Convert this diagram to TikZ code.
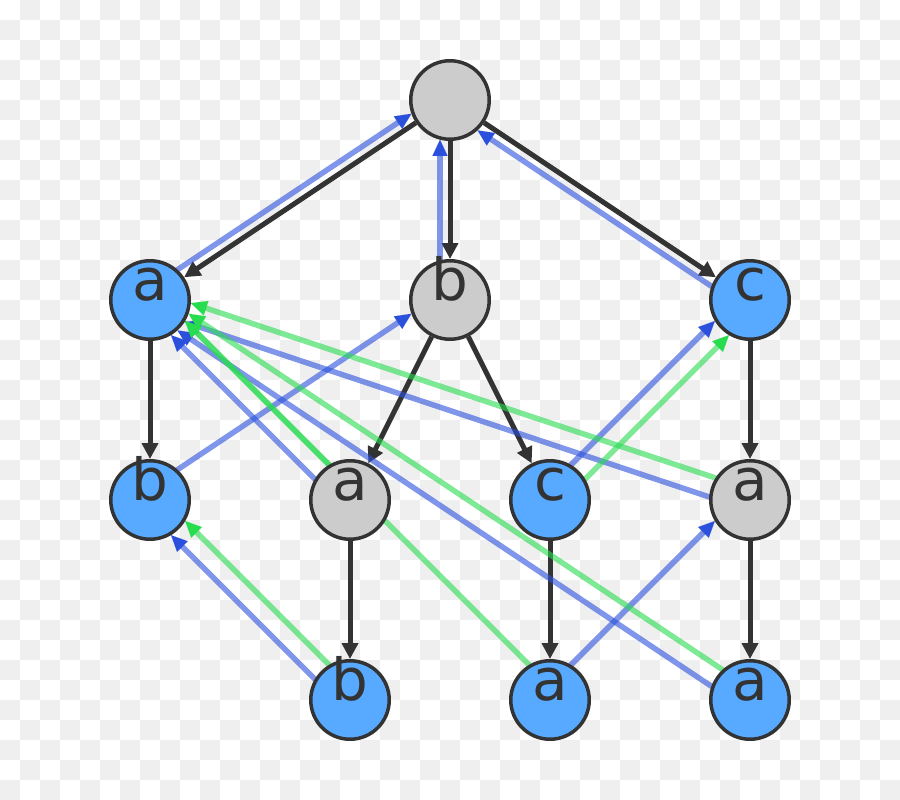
\documentclass[tikz,border=0pt]{standalone}
\usepackage{fontspec}
\setmainfont{DejaVu Sans}
\usetikzlibrary{arrows.meta,calc}
\definecolor{edgec}{HTML}{333333}
\definecolor{nodeblue}{HTML}{57AAFF}
\definecolor{nodegray}{HTML}{CCCCCC}
\definecolor{checker}{HTML}{EFEFEF}
\definecolor{failc}{HTML}{2A50DC}
\definecolor{dictc}{HTML}{28DC50}
\pgfdeclarelayer{bg}
\pgfdeclarelayer{edges}
\pgfsetlayers{bg,edges,main}
\tikzset{
  st/.style={circle, draw=edgec, line width=3.5pt, minimum size=78.5pt, inner sep=0pt},
  bnode/.style={st, fill=nodeblue},
  gnode/.style={st, fill=nodegray},
  lbl/.style={anchor=base, inner sep=0pt, outer sep=0pt, text=edgec, font=\fontsize{58}{60}\selectfont},
  tree/.style={draw=edgec, line width=5pt, -{Triangle[length=16pt,width=16pt]}},
  bline/.style={draw=failc, draw opacity=0.6, line width=5.5pt},
  gline/.style={draw=dictc, draw opacity=0.6, line width=5.5pt},
  btip/.style={draw=failc, fill=failc, line width=0.01pt, -{Triangle[length=16pt,width=15pt]}},
  gtip/.style={draw=dictc, fill=dictc, line width=0.01pt, -{Triangle[length=16pt,width=15pt]}},
}
\newcommand\bluelink[2]{%
  \path ($(#1.center)!10pt!90:(#2.center)$) coordinate (s)
        ($(#2.center)!10pt!-90:(#1.center)$) coordinate (t);
  \draw[bline] (s) -- ($(t)!54.8pt!(s)$);
  \draw[btip] ($(t)!55.8pt!(s)$) -- ($(t)!39.8pt!(s)$);
}
\newcommand\greenlink[2]{%
  \path ($(#1.center)!10pt!-90:(#2.center)$) coordinate (s)
        ($(#2.center)!10pt!90:(#1.center)$) coordinate (t);
  \draw[gline] (s) -- ($(t)!54.8pt!(s)$);
  \draw[gtip] ($(t)!55.8pt!(s)$) -- ($(t)!39.8pt!(s)$);
}
\begin{document}
\begin{tikzpicture}[x=1pt,y=-1pt]
\useasboundingbox (0,0) rectangle (900,800);
\begin{pgfonlayer}{bg}
  \fill[white] (0,0) rectangle (900,800);
  \foreach \j in {0,...,39}{
    \foreach \i in {0,...,44}{
      \pgfmathtruncatemacro\pp{mod(\i+\j,2)}
      \ifnum\pp=1 \fill[checker] (\i*20,\j*20) rectangle ++(20,20); \fi
    }
  }
\end{pgfonlayer}

\node[gnode] (root) at (450,100) {};
\node[bnode] (a1) at (150,300) {};
\node[gnode] (b1) at (450,300) {};
\node[bnode] (c1) at (750,300) {};
\node[bnode] (b2) at (150,500) {};
\node[gnode] (a2) at (350,500) {};
\node[bnode] (c2) at (550,500) {};
\node[gnode] (a3) at (750,500) {};
\node[bnode] (b3) at (350,700) {};
\node[bnode] (a4) at (550,700) {};
\node[bnode] (a5) at (750,700) {};

\node[lbl] (ta1) at (a1.center) {a};
\node[lbl] (tb1) at (b1.center) {b};
\node[lbl] (tc1) at (c1.center) {c};
\node[lbl] (tb2) at (b2.center) {b};
\node[lbl] (ta2) at (a2.center) {a};
\node[lbl] (tc2) at (c2.center) {c};
\node[lbl] (ta3) at (a3.center) {a};
\node[lbl] (tb3) at (b3.center) {b};
\node[lbl] (ta4) at (a4.center) {a};
\node[lbl] (ta5) at (a5.center) {a};

\begin{pgfonlayer}{edges}
  \draw[tree] (root) -- (a1);
  \draw[tree] (root) -- (b1);
  \draw[tree] (root) -- (c1);
  \draw[tree] (a1) -- (b2);
  \draw[tree] (b1) -- (a2);
  \draw[tree] (b1) -- (c2);
  \draw[tree] (c1) -- (a3);
  \draw[tree] (a2) -- (b3);
  \draw[tree] (c2) -- (a4);
  \draw[tree] (a3) -- (a5);

  \bluelink{a1}{root}
  \bluelink{b1}{root}
  \bluelink{c1}{root}
  \bluelink{b2}{b1}
  \bluelink{a2}{a1}
  \bluelink{c2}{c1}
  \bluelink{a3}{a1}
  \bluelink{b3}{b2}
  \bluelink{a4}{a3}
  \bluelink{a5}{a1}

  \greenlink{b3}{b2}
  \greenlink{a2}{a1}
  \greenlink{c2}{c1}
  \greenlink{a3}{a1}
  \greenlink{a4}{a1}
  \greenlink{a5}{a1}
\end{pgfonlayer}
\end{tikzpicture}
\end{document}
